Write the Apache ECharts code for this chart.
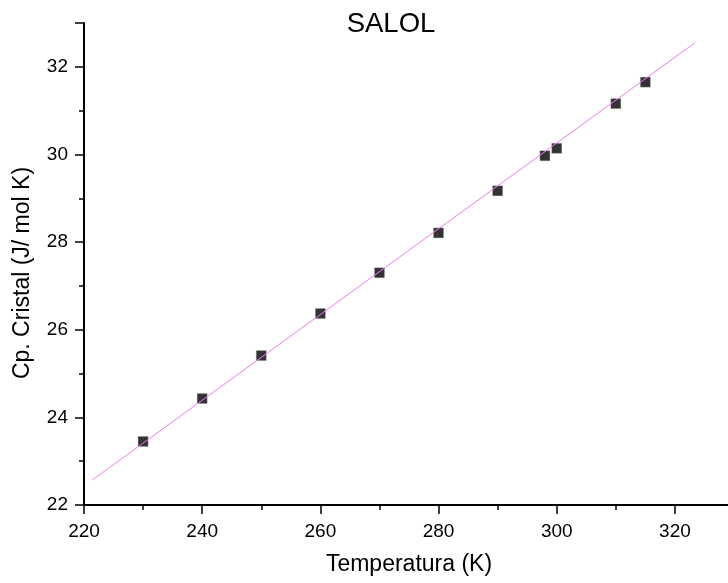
<!DOCTYPE html>
<html><head><meta charset="utf-8">
<script src="https://cdn.jsdelivr.net/npm/echarts@6/dist/echarts.min.js"></script>
<style>html,body{margin:0;padding:0;background:#fff;overflow:hidden}#c{width:737px;height:583px}</style>
</head><body><div id="c"></div>
<script>
var temps = [230, 240, 250, 260, 270, 280, 290, 298, 300, 310, 315];
var cpValues = [23.45, 24.43, 25.41, 26.37, 27.30, 28.21, 29.17, 29.97, 30.14, 31.16, 31.65];
var fitX = [221.4, 323.4];
var fitY = [22.57, 32.55];
var titleText = 'SALOL';
var xName = 'Temperatura (K)';
var yName = 'Cp. Cristal (J/ mol K)';

var pts = temps.map(function(t,i){return [t, cpValues[i]];});
var fit = fitX.map(function(x,i){return [x, fitY[i]];});
var font = 'Liberation Sans, Arial, sans-serif';
var chart = echarts.init(document.getElementById('c'), null, {renderer:'canvas'});
chart.setOption({
  animation:false,
  backgroundColor:'#fff',
  title:{text:titleText,left:386,top:5,textAlign:'center',textStyle:{fontFamily:font,fontSize:27.5,fontWeight:'normal',color:'#000'}},
  grid:{left:84,top:23,right:0,bottom:78,containLabel:false},
  xAxis:{type:'value',min:220,max:330,interval:20,
    name:xName,nameLocation:'middle',nameGap:48,
    nameTextStyle:{fontFamily:font,fontSize:23,color:'#000'},
    axisLine:{onZero:false,lineStyle:{color:'#000',width:2}},
    axisTick:{inside:false,length:9,lineStyle:{color:'#000',width:1.5}},
    minorTick:{show:true,splitNumber:2,length:5,lineStyle:{color:'#000',width:1.5}},
    splitLine:{show:false},
    axisLabel:{fontFamily:font,fontSize:19,color:'#000',margin:17,
      formatter:function(v){return v%20===0 && v<=320 ? String(v) : '';}}
  },
  yAxis:{type:'value',min:22,max:33,interval:2,
    name:yName,nameLocation:'middle',nameGap:50,nameRotate:90,
    nameTextStyle:{fontFamily:font,fontSize:23,color:'#000',padding:[0,18,0,0]},
    axisLine:{onZero:false,lineStyle:{color:'#000',width:2}},
    axisTick:{inside:false,length:9,lineStyle:{color:'#000',width:1.5}},
    minorTick:{show:true,splitNumber:2,length:5,lineStyle:{color:'#000',width:1.5}},
    splitLine:{show:false},
    axisLabel:{fontFamily:font,fontSize:19,color:'#000',margin:16,
      formatter:function(v){return v%2===0 ? String(v) : '';}}
  },
  series:[
    {type:'scatter',data:pts,symbol:'rect',symbolSize:10,z:2,
      itemStyle:{color:'#000',borderColor:'#999',borderWidth:0.4}},
    {type:'line',data:fit,symbol:'none',z:3,lineStyle:{color:'#f07cf0',width:1}}
  ]
});
</script></body></html>
